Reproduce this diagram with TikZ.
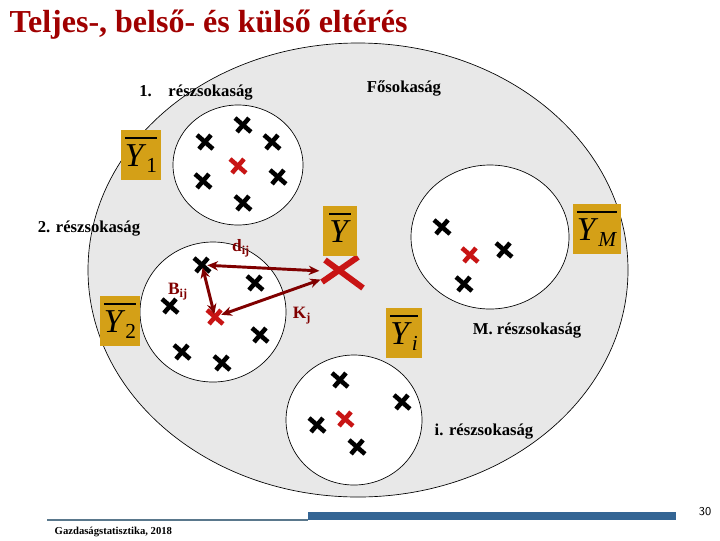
\documentclass[tikz,border=0pt]{standalone}
\usepackage{fontspec}
\setmainfont{Liberation Serif}
\usetikzlibrary{arrows.meta}
\definecolor{titlered}{RGB}{160,0,0}
\definecolor{arrred}{RGB}{128,0,0}
\definecolor{xred}{RGB}{200,20,20}
\definecolor{meangold}{RGB}{212,160,23}
\definecolor{popgray}{RGB}{232,232,232}
\definecolor{barblue}{RGB}{52,101,148}
\definecolor{rulegray}{RGB}{90,120,140}
% barred Y with a subscript
\newcommand{\meanlbl}[1]{\setbox0\hbox{\textit{Y}\raisebox{-5pt}{\fontsize{16}{16}\selectfont#1}}\vbox{\hrule width\wd0 height 1.2pt\kern4pt\box0}}

\begin{document}
\begin{tikzpicture}[x=0.75pt,y=-0.75pt,
	lbl/.style={font=\fontsize{12.5}{14}\selectfont\bfseries},
	idx/.style={text=arrred,font=\fontsize{13}{14}\selectfont\bfseries},
	mean/.style={fill=meangold,inner xsep=3pt,inner ysep=0pt,minimum width=26pt,minimum height=37.5pt,font=\fontsize{25}{26}\selectfont},
	diff/.style={arrred,line width=2.2pt,{Stealth[length=8pt,width=7pt]}-{Stealth[length=8pt,width=7pt]}},
	xmark/.pic={\draw[line width=3.4pt] (-8,-7)--(8,7) (-6,7)--(6,-7);},
	bigx/.pic={\draw[xred,line width=4.5pt] (-17,-12)--(21,16) (-20,10)--(16,-15);}]
	\useasboundingbox (0,0) rectangle (720,540);
	\node[anchor=west,text=titlered,font=\fontsize{24}{26}\selectfont\bfseries] (title) at (5,25) {Teljes-, belső- és külső eltérés};
	% population and subpopulations
	\draw[fill=popgray,line width=0.5pt] (358,270) ellipse [x radius=270,y radius=227];
	\draw[fill=white,line width=0.5pt] (238,165) ellipse [x radius=65,y radius=60];
	\draw[fill=white,line width=0.5pt] (213,312) ellipse [x radius=73,y radius=70];
	\draw[fill=white,line width=0.5pt] (490,237) ellipse [x radius=79,y radius=72];
	\draw[fill=white,line width=0.5pt] (354,420) ellipse [x radius=68,y radius=65];
	% observations
	\foreach \p in {(243,125),(205,142),(272,142),(203,181),(278,177),(243,203),
		(202,265),(255,283),(170,306),(260,335),(182,352),(222,363),
		(442,227),(504,250),(464,284),
		(340,380),(402,402),(317,425),(357,447)}
		\pic at \p {xmark};
	% group means
	\foreach \p in {(238,166),(215,317),(470,255),(345,419)}
		\pic[xred] at \p {xmark};
	\coordinate (xij) at (202,265);
	\coordinate (m2) at (215,317);
	\coordinate (ybarx) at (342,272);
	\pic at (ybarx) {bigx};
	\node[mean] (y1) at (141,155) {\meanlbl{1}};
	\node[mean] (y2) at (120,321) {\meanlbl{2}};
	\node[mean] (yb) at (340,231) {\meanlbl{}};
	\node[mean] (ym) at (597,229) {\meanlbl{\textit{M}}};
	\node[mean] (yi) at (404,333) {\meanlbl{\textit{i}}};
	\node[lbl] (fo) at (404,88) {Fősokaság};
	\node[lbl] (r1) at (196,93) {1.\hspace{1em}részsokaság};
	\node[lbl] (r2) at (89,229) {2. részsokaság};
	\node[lbl] (rm) at (527,331) {M. részsokaság};
	\node[lbl] (ri) at (484,432) {i. részsokaság};
	% deviations
	\draw[diff,shorten <=4pt,shorten >=17pt] (xij) -- (ybarx);
	\draw[diff,shorten <=5pt,shorten >=17pt] (m2) -- (ybarx);
	\draw[diff,shorten <=2pt,shorten >=2pt] (xij) -- (m2);
	\node[idx] (dij) at (241,248) {d\textsubscript{ij}};
	\node[idx] (bij) at (178,292) {B\textsubscript{ij}};
	\node[idx] (kj) at (302,316) {K\textsubscript{j}};
	% footer
	\draw[rulegray,line width=0.8pt] (47,520) -- (308,520);
	\fill[barblue] (308,512) rectangle (676,520);
	\node[anchor=west,font=\fontsize{8}{9}\selectfont\bfseries] (foot) at (50,532) {Gazdaságstatisztika, 2018};
	\node[font=\sffamily\fontsize{9}{10}\selectfont] (pg) at (705,512) {30};
\end{tikzpicture}
\end{document}
